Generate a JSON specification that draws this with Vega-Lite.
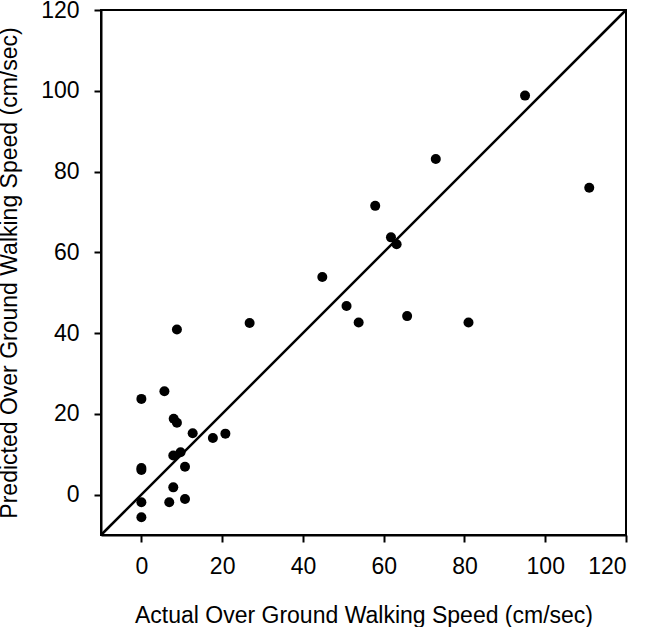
{
  "$schema": "https://vega.github.io/schema/vega-lite/v6.json",
  "autosize": {"type": "none"},
  "padding": {"left": 101, "top": 10, "right": 20, "bottom": 92},
  "width": 525,
  "height": 525,
  "background": "white",
  "config": {
    "view": {"stroke": "black", "strokeWidth": 2},
    "font": "Liberation Sans",
    "axis": {
      "grid": false,
      "domainColor": "black",
      "domainWidth": 2,
      "tickColor": "black",
      "tickWidth": 2,
      "tickSize": 7,
      "labelFont": "Liberation Sans",
      "labelFontSize": 23,
      "labelColor": "black",
      "titleFont": "Liberation Sans",
      "titleFontSize": 23,
      "titleFontWeight": "normal",
      "titleColor": "black"
    }
  },
  "datasets": {
    "points": [
      {"actual": 0, "predicted": 23.7},
      {"actual": 0, "predicted": 6.6},
      {"actual": 0, "predicted": 6.1},
      {"actual": 0, "predicted": -1.9},
      {"actual": 0, "predicted": -5.6},
      {"actual": 5.7, "predicted": 25.6},
      {"actual": 8.8, "predicted": 40.9},
      {"actual": 8.0, "predicted": 18.8},
      {"actual": 8.8, "predicted": 17.8},
      {"actual": 9.7, "predicted": 10.5},
      {"actual": 7.9, "predicted": 9.7},
      {"actual": 12.7, "predicted": 15.2},
      {"actual": 17.7, "predicted": 14.0},
      {"actual": 20.8, "predicted": 15.1},
      {"actual": 10.8, "predicted": 6.9},
      {"actual": 7.9, "predicted": 1.8},
      {"actual": 6.9, "predicted": -1.9},
      {"actual": 10.8, "predicted": -1.1},
      {"actual": 26.8, "predicted": 42.5},
      {"actual": 44.8, "predicted": 53.9},
      {"actual": 50.8, "predicted": 46.7},
      {"actual": 53.8, "predicted": 42.6},
      {"actual": 57.9, "predicted": 71.5},
      {"actual": 61.8, "predicted": 63.7},
      {"actual": 63.2, "predicted": 62.0},
      {"actual": 65.8, "predicted": 44.2},
      {"actual": 72.9, "predicted": 83.1},
      {"actual": 81.0, "predicted": 42.6},
      {"actual": 95.0, "predicted": 98.8},
      {"actual": 110.9, "predicted": 76.0}
    ],
    "identity": [
      {"actual": -10, "predicted": -10},
      {"actual": 120, "predicted": 120}
    ]
  },
  "layer": [
    {
      "data": {"name": "identity"},
      "mark": {"type": "line", "color": "black", "strokeWidth": 2.5},
      "encoding": {
        "x": {"field": "actual", "type": "quantitative",
              "scale": {"domain": [-10, 120], "nice": false, "zero": false},
              "axis": {"values": [0, 20, 40, 60, 80, 100, 120], "labelPadding": 13, "titlePadding": 26,
                       "title": "Actual Over Ground Walking Speed (cm/sec)"}},
        "y": {"field": "predicted", "type": "quantitative",
              "scale": {"domain": [-10, 120], "nice": false, "zero": false},
              "axis": {"values": [0, 20, 40, 60, 80, 100, 120], "labelPadding": 15, "titlePadding": 19,
                       "title": "Predicted Over Ground Walking Speed (cm/sec)"}}
      }
    },
    {
      "data": {"name": "points"},
      "mark": {"type": "circle", "color": "black", "opacity": 1, "size": 100},
      "encoding": {
        "x": {"field": "actual", "type": "quantitative"},
        "y": {"field": "predicted", "type": "quantitative"}
      }
    }
  ]
}
